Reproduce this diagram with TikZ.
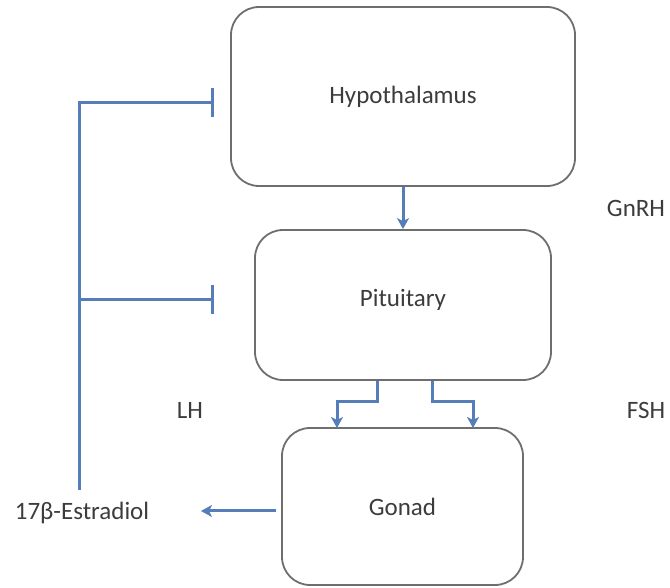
\documentclass[tikz,border=0pt]{standalone}
\usepackage{fontspec}
\setmainfont{Carlito}
\usetikzlibrary{arrows.meta}
\definecolor{fb}{RGB}{84,125,185}
\definecolor{bx}{RGB}{110,110,110}
\definecolor{tx}{RGB}{60,60,60}
\tikzset{
  organ/.style={draw=bx, line width=1.8pt, rounded corners=28pt, inner sep=0pt, text=tx, font=\fontsize{25}{30}\selectfont},
  lbl/.style={text=tx, font=\fontsize{25}{30}\selectfont, inner sep=0pt},
  flow/.style={draw=fb, line width=3pt, -{Stealth[length=11pt,width=12pt,inset=3pt]}},
  inhib/.style={draw=fb, line width=3pt, -{Bar[width=29pt,line width=3pt]}},
  fbline/.style={draw=fb, line width=3pt}
}
\begin{document}
\begin{tikzpicture}[x=1pt,y=1pt]
\useasboundingbox (0,0) rectangle (670,587);
% boxes (y = 587 - pixel y)
\node[organ, minimum width=344pt, minimum height=179pt] (hyp) at (403,490.5) {Hypothalamus};
\node[organ, minimum width=296pt, minimum height=150pt] (pit) at (403,282) {\raisebox{14pt}{Pituitary}};
\node[organ, minimum width=241pt, minimum height=157pt] (gon) at (402.5,80.5) {\raisebox{-3pt}{Gonad}};
% labels
\node[lbl] (gnrh) at (636,379) {GnRH};
\node[lbl] (lh) at (190,177) {LH};
\node[lbl] (fsh) at (646,177) {FSH};
\node[lbl] (est) at (82,74) {17β-Estradiol};
% GnRH arrow
\draw[flow] (hyp.south) -- (pit.north);
% LH / FSH branches
\coordinate (lhs) at (377,185);
\coordinate (fshs) at (432,185);
\coordinate (lhe) at (337,159);
\coordinate (fshe) at (473,159);
\draw[flow] (lhs |- pit.south) -- (lhs) -| (lhe);
\draw[flow] (fshs |- pit.south) -- (fshs) -| (fshe);
% gonad to estradiol
\coordinate (gout) at (276,76);
\coordinate (ein) at (201,76);
\draw[flow] (gout) -- (ein);
% feedback
\coordinate (fbot) at (79,97);
\coordinate (ftop) at (79,484);
\coordinate (fmid) at (79,287);
\coordinate (bhyp) at (214,484);
\coordinate (bpit) at (214,287);
\draw[fbline] (fbot) -- (ftop);
\draw[inhib] ([xshift=-1.5pt]ftop) -- (bhyp);
\draw[inhib] (fmid) -- (bpit);
\end{tikzpicture}
\end{document}
